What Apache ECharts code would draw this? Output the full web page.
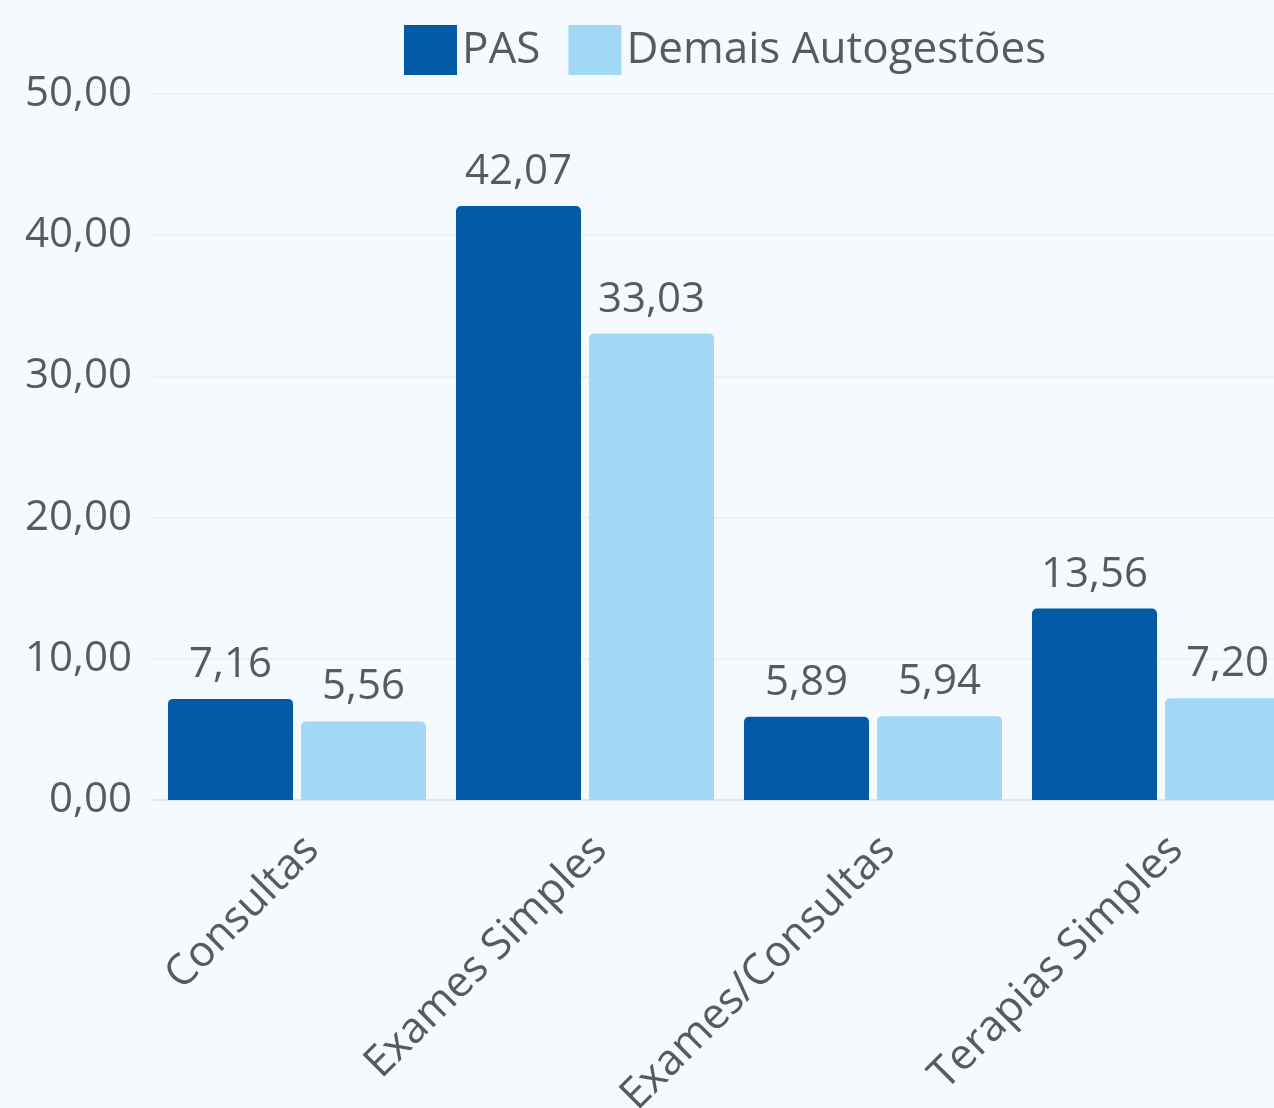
<!DOCTYPE html>
<html>
<head>
<meta charset="utf-8">
<script src="https://cdn.jsdelivr.net/npm/echarts@6/dist/echarts.min.js"></script>
<style>
  html, body {
    margin: 0;
    padding: 0;
    width: 1274px;
    height: 1108px;
    overflow: hidden;
    background: #f5faff;
  }
  #chart {
    position: absolute;
    left: 0;
    top: 0;
    width: 1400px;
    height: 1108px;
  }
</style>
</head>
<body>
<div id="chart"></div>
<script>
// categorias e valores
const categories = ["Consultas", "Exames Simples", "Exames/Consultas", "Terapias Simples"];
const pasValues = [7.16, 42.07, 5.89, 13.56];
const demaisValues = [5.56, 33.03, 5.94, 7.20];
const seriesNames = ["PAS", "Demais Autogestões"];

const textColor = "#5a5a5a";
const fmt = (v) => Number(v).toFixed(2).replace(".", ",");

const chart = echarts.init(document.getElementById("chart"));

const options = {
  backgroundColor: "#f5faff",
  textStyle: {
    fontFamily: "Open Sans",
  },
  legend: {
    left: 404,
    top: 25,
    padding: 0,
    itemWidth: 53,
    itemHeight: 50,
    itemGap: 28,
    icon: "rect",
    data: seriesNames,
    textStyle: {
      color: textColor,
      fontSize: 44,
      fontFamily: "Open Sans",
    },
  },
  grid: {
    left: 153,
    right: 95,
    top: 94,
    bottom: 308,
    containLabel: false,
    outerBoundsMode: "none",
  },
  xAxis: {
    type: "category",
    data: categories,
    axisTick: { show: false },
    axisLine: {
      lineStyle: { color: "#e3e6ea", width: 2 },
    },
    axisLabel: {
      rotate: 45,
      margin: 28,
      verticalAlign: "top",
      color: textColor,
      fontSize: 43,
      fontFamily: "Open Sans",
      interval: 0,
    },
  },
  yAxis: {
    type: "value",
    min: 0,
    max: 50,
    interval: 10,
    axisLine: { show: false },
    axisTick: { show: false },
    splitLine: {
      lineStyle: { color: "#edf1f5", width: 2 },
    },
    axisLabel: {
      margin: 21,
      color: textColor,
      fontSize: 42,
      fontFamily: "Open Sans",
      formatter: (v) => fmt(v),
    },
  },
  series: [
    {
      name: seriesNames[0],
      type: "bar",
      data: pasValues,
      barWidth: 125,
      barGap: "6.4%",
      itemStyle: {
        color: "#035aa7",
        borderRadius: [5, 5, 0, 0],
      },
      label: {
        show: true,
        position: "top",
        distance: 13,
        color: textColor,
        fontSize: 42,
        fontFamily: "Open Sans",
        formatter: (p) => fmt(p.value),
      },
    },
    {
      name: seriesNames[1],
      type: "bar",
      data: demaisValues,
      barWidth: 125,
      itemStyle: {
        color: "#a3d8f5",
        borderRadius: [5, 5, 0, 0],
      },
      label: {
        show: true,
        position: "top",
        distance: 13,
        color: textColor,
        fontSize: 42,
        fontFamily: "Open Sans",
        formatter: (p) => fmt(p.value),
      },
    },
  ],
};

chart.setOption(options);
</script>
</body>
</html>
